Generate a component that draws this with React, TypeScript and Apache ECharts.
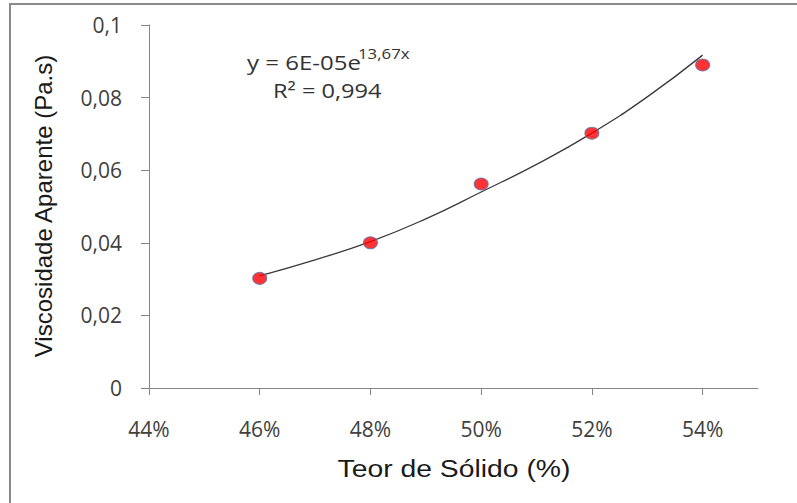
import React, { useEffect, useRef } from "react";
import * as echarts from "echarts";

const solidContent = [46, 48, 50, 52, 54];
const viscosity = [0.0302, 0.04, 0.0562, 0.0702, 0.089];
const trendX = [46, 47, 48, 49, 50, 51, 52, 53, 54];
const trendY = [0.0309, 0.0353, 0.0403, 0.0466, 0.054, 0.0616, 0.0702, 0.0802, 0.0917];
const xTicks = [44, 46, 48, 50, 52, 54];
const xTitle = "Teor de Sólido (%)";
const yTitle = "Viscosidade Aparente (Pa.s)";
const equationMain = "y = 6E-05e";
const equationExp = "13,67x";
const rSquared = "R² = 0,994";

export default function App() {
  const ref = useRef<HTMLDivElement>(null);
  useEffect(() => {
    if (!ref.current) return;
    const chart = echarts.init(ref.current, null, { renderer: "svg" });
    const axisColor = "#868686";
    const labelFont = "'Open Sans', 'Noto Sans', sans-serif";
    const titleFont = "'Liberation Sans', Arial, sans-serif";
    chart.setOption({
      animation: false,
      backgroundColor: "#ffffff",
      grid: { left: 149, right: 39, top: 25, bottom: 115, containLabel: false },
      xAxis: {
        type: "value",
        min: 44,
        max: 55,
        interval: 2,
        splitLine: { show: false },
        axisLine: { lineStyle: { color: axisColor, width: 1 } },
        axisTick: {
          show: true,
          length: 7,
          inside: false,
          customValues: xTicks,
          lineStyle: { color: axisColor },
        },
        axisLabel: {
          customValues: xTicks,
          margin: 30,
          fontFamily: labelFont,
          fontSize: 21,
          color: "#404040",
          formatter: (v: number) => `${v}%`,
        },
      },
      yAxis: {
        type: "value",
        min: 0,
        max: 0.1,
        interval: 0.02,
        splitLine: { show: false },
        axisLine: { show: true, lineStyle: { color: axisColor, width: 1 } },
        axisTick: { show: true, length: 8, lineStyle: { color: axisColor } },
        axisLabel: {
          margin: 27,
          fontFamily: labelFont,
          fontSize: 21,
          color: "#404040",
          formatter: (v: number) => String(Math.round(v * 100) / 100).replace(".", ","),
        },
      },
      graphic: [
        {
          type: "rect",
          silent: true,
          shape: { x: 10, y: 4, width: 900, height: 600 },
          style: { fill: "none", stroke: "#8a8a8a", lineWidth: 2 },
        },
        {
          type: "text",
          x: 454,
          y: 469,
          scaleX: 1.18,
          style: {
            text: xTitle,
            font: `24px ${titleFont}`,
            fill: "#1a1a1a",
            textAlign: "center",
            textVerticalAlign: "middle",
          },
        },
        {
          type: "text",
          x: 43,
          y: 206,
          rotation: Math.PI / 2,
          style: {
            text: yTitle,
            font: `24px ${titleFont}`,
            fill: "#1a1a1a",
            textAlign: "center",
            textVerticalAlign: "middle",
          },
        },
        {
          type: "text",
          x: 247,
          y: 62,
          scaleX: 1.2,
          style: {
            text: equationMain,
            font: `20px ${labelFont}`,
            fill: "#333333",
            textAlign: "left",
            textVerticalAlign: "middle",
          },
        },
        {
          type: "text",
          x: 358,
          y: 54,
          scaleX: 1.2,
          style: {
            text: equationExp,
            font: `14px ${labelFont}`,
            fill: "#333333",
            textAlign: "left",
            textVerticalAlign: "middle",
          },
        },
        {
          type: "text",
          x: 273,
          y: 90,
          scaleX: 1.18,
          style: {
            text: rSquared,
            font: `20px ${labelFont}`,
            fill: "#333333",
            textAlign: "left",
            textVerticalAlign: "middle",
          },
        },
      ],
      series: [
        {
          type: "line",
          name: "trend",
          data: trendX.map((x, i) => [x, trendY[i]]),
          smooth: true,
          showSymbol: false,
          symbol: "none",
          lineStyle: { color: "#3a3a3a", width: 1.3 },
          z: 2,
        },
        {
          type: "scatter",
          name: "data",
          data: solidContent.map((x, i) => [x, viscosity[i]]),
          symbol: "circle",
          symbolSize: [14, 12],
          itemStyle: { color: "#ff0000", borderColor: "#5a6fae", borderWidth: 1 },
          z: 3,
        },
      ],
    });
    return () => chart.dispose();
  }, []);
  return (
    <div
      ref={ref}
      style={{ position: "fixed", left: 0, top: 0, width: 797, height: 503, background: "#fff" }}
    />
  );
}
